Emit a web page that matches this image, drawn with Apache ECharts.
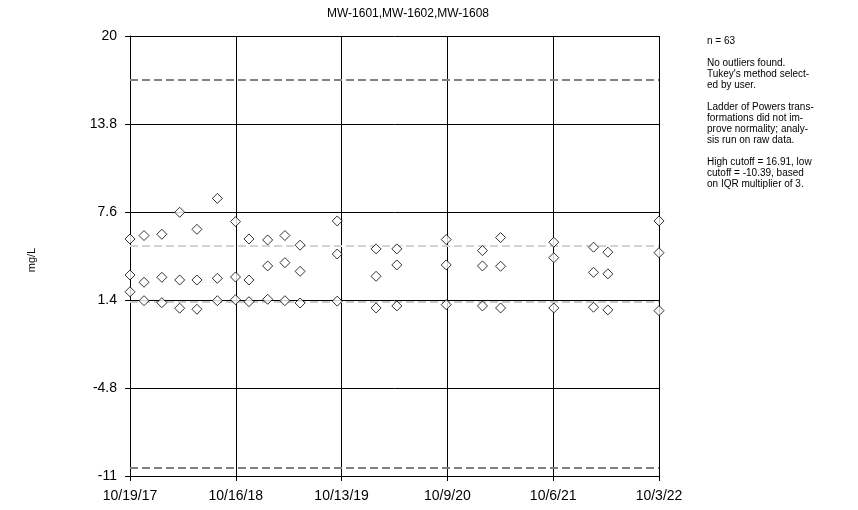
<!DOCTYPE html>
<html>
<head>
<meta charset="utf-8">
<script src="https://cdn.jsdelivr.net/npm/echarts@6/dist/echarts.min.js"></script>
<style>
  html, body { margin: 0; padding: 0; background: #fff; }
  #chart { width: 858px; height: 510px; }
</style>
</head>
<body>
<div id="chart"></div>
<script>
// ---- data ----
const startDate = '2017-10-19';
const sampleDates = [
  '2017-10-19','2017-12-06','2018-02-05','2018-04-07','2018-06-05','2018-08-14','2018-10-15',
  '2018-11-30','2019-02-02','2019-04-02','2019-05-24','2019-09-28','2020-02-08','2020-04-19',
  '2020-10-05','2021-02-06','2021-04-09','2021-10-08','2022-02-21','2022-04-11','2022-10-03'
];
const valuesUpper  = [5.70, 5.94, 6.03, 7.58, 6.38, 8.56, 6.92, 5.70, 5.63, 5.94, 5.26, 6.97, 5.00, 5.00, 5.66, 4.88, 5.80, 5.47, 5.12, 4.77, 6.97];
const valuesMiddle = [3.16, 2.65, 3.00, 2.81, 2.81, 2.93, 3.02, 2.81, 3.80, 4.03, 3.42, 4.64, 3.07, 3.87, 3.87, 3.80, 3.78, 4.38, 3.35, 3.24, 4.73];
const valuesLower  = [1.98, 1.35, 1.21, 0.82, 0.75, 1.35, 1.42, 1.28, 1.45, 1.35, 1.19, 1.32, 0.84, 0.98, 1.07, 0.98, 0.84, 0.84, 0.89, 0.70, 0.65];
const highCutoff = 16.91;
const lowCutoff = -10.39;
const upperQuartile = 5.21;
const lowerQuartile = 1.31;
const xTickLabels = ['10/19/17','10/16/18','10/13/19','10/9/20','10/6/21','10/3/22'];
const yTickLabels = ['-11','-4.8','1.4','7.6','13.8','20'];
const titleText = 'MW-1601,MW-1602,MW-1608';
const yAxisTitle = 'mg/L';
const noteLines = [
  'n = 63', '',
  'No outliers found.', 'Tukey\'s method select-', 'ed by user.', '',
  'Ladder of Powers trans-', 'formations did not im-', 'prove normality; analy-', 'sis run on raw data.', '',
  'High cutoff = 16.91, low', 'cutoff = -10.39, based', 'on IQR multiplier of 3.'
];

// ---- axis setup ----
const X_STEP = 362;             // days between date ticks
const Y_MIN = -11, Y_STEP = 6.2; // value axis origin and step
const DAY = 86400000;
function daysFromStart(d) {
  return Math.round((Date.parse(d + 'T00:00:00Z') - Date.parse(startDate + 'T00:00:00Z')) / DAY);
}
const yPos = v => v - Y_MIN; // shift so axis min is 0 (a multiple of the step)

const points = [];
sampleDates.forEach((d, i) => {
  const x = daysFromStart(d);
  [valuesUpper, valuesMiddle, valuesLower].forEach(arr => points.push([x, yPos(arr[i])]));
});

const FONT = 'Liberation Sans, Arial, sans-serif';
const chart = echarts.init(document.getElementById('chart'), null, { renderer: 'canvas' });
chart.setOption({
  animation: false,
  backgroundColor: '#fff',
  grid: { left: 130, right: 199, top: 36, bottom: 34, containLabel: false },
  xAxis: {
    type: 'value', min: 0, max: X_STEP * 5, interval: X_STEP,
    axisLine: { show: true, onZero: false, lineStyle: { color: '#000', width: 1 } },
    axisTick: { show: true, length: 5, lineStyle: { color: '#000' } },
    axisLabel: {
      color: '#000', fontFamily: FONT, fontSize: 14, margin: 13,
      formatter: v => xTickLabels[Math.round(v / X_STEP)]
    },
    splitLine: { show: true, lineStyle: { color: '#000', width: 1 } }
  },
  yAxis: {
    type: 'value', min: 0, max: Y_STEP * 5, interval: Y_STEP,
    axisLine: { show: true, onZero: false, lineStyle: { color: '#000', width: 1 } },
    axisTick: { show: true, length: 5, lineStyle: { color: '#000' } },
    axisLabel: {
      color: '#000', fontFamily: FONT, fontSize: 14, margin: 13,
      formatter: v => yTickLabels[Math.round(v / Y_STEP)]
    },
    splitLine: { show: true, lineStyle: { color: '#000', width: 1 } }
  },
  series: [{
    type: 'scatter',
    data: points,
    symbol: 'diamond',
    symbolSize: 10,
    itemStyle: { color: '#fff', borderColor: '#000', borderWidth: 1 },
    z: 5,
    markLine: {
      silent: true, symbol: 'none', animation: false,
      label: { show: false },
      data: [
        { yAxis: yPos(highCutoff), lineStyle: { color: '#808080', type: [8, 4], width: 2 } },
        { yAxis: yPos(upperQuartile), lineStyle: { color: '#d3d3d3', type: [8, 4], width: 2 } },
        { yAxis: yPos(lowerQuartile), lineStyle: { color: '#c8c8c8', type: [8, 4], width: 2 } },
        { yAxis: yPos(lowCutoff), lineStyle: { color: '#808080', type: [8, 4], width: 2 } }
      ]
    }
  }],
  graphic: [
    { type: 'text', x: 408, y: 14,
      style: { text: titleText, font: '12px ' + FONT, fill: '#000', align: 'center', verticalAlign: 'middle' }, z: 10 },
    { type: 'text', x: 32, y: 260, rotation: Math.PI / 2,
      style: { text: yAxisTitle, font: '11px ' + FONT, fill: '#000', align: 'center', verticalAlign: 'middle' }, z: 10 },
    { type: 'text', x: 707, y: 36,
      style: { text: noteLines.join('\n'), font: '10px ' + FONT, lineHeight: 11, fill: '#000' }, z: 10 }
  ]
});
</script>
</body>
</html>
